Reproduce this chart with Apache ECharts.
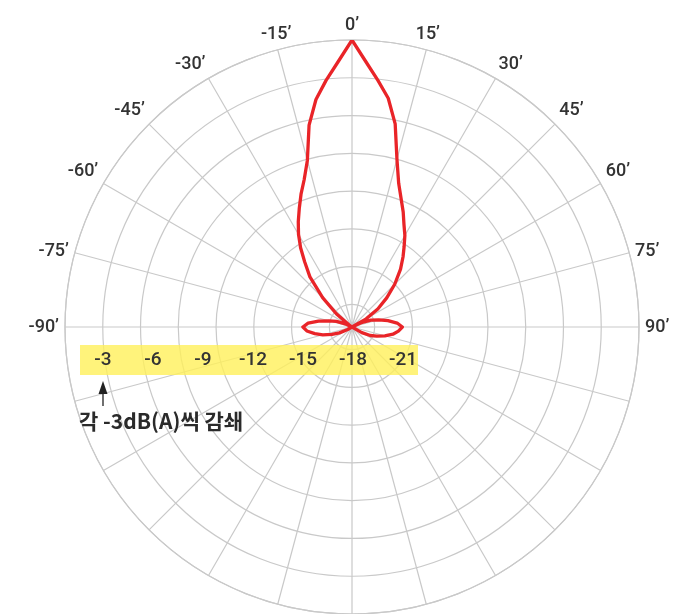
<!DOCTYPE html>
<html>
<head>
<meta charset="utf-8">
<script src="https://cdn.jsdelivr.net/npm/echarts@6/dist/echarts.min.js"></script>
<style>
  html, body { margin: 0; padding: 0; background: #fff; }
  #chart { width: 677px; height: 614px; }
</style>
</head>
<body>
<div id="chart"></div>
<script>
// angle in degrees (0 = front), level in dB
const angles = [
  -125, -120, -115, -110, -105, -100, -95, -90, -85, -80, -75, -70, -65, -60,
  -58, -54, -50, -45, -40, -36, -33, -30, -27, -24, -21, -18, -15, -12, -9, -6, -3,
  0, 3, 6, 9, 12, 15, 18, 21, 24, 27, 30, 33, 36, 40, 45, 50, 55, 60, 62,
  65, 70, 75, 80, 85, 90, 95, 100, 105, 110, 115, 120, 125
];
const levels = [
  -22.8, -22.4, -21.7, -21.1, -20.4, -19.8, -19.2, -18.9, -19.3, -20.1, -20.9, -21.5, -22.2, -22.8,
  -22.8, -22.5, -21.2, -19.5, -17.6, -16.4, -15.3, -14.3, -13.4, -12.5, -11.5, -10.5, -9.1, -6.4, -4.5, -3.1, -1.7,
  0, -1.7, -3.1, -4.4, -6.3, -9.0, -10.8, -11.9, -12.8, -13.7, -14.4, -15.2, -15.9, -16.8, -18.0, -19.2, -20.3, -21.5, -22.8,
  -22.0, -21.2, -20.6, -19.9, -19.2, -18.8, -19.1, -19.5, -20.1, -20.7, -21.2, -21.9, -22.8
];
const ringLabels = ['-3', '-6', '-9', '-12', '-15', '-18', '-21'];
const noteText = '각 -3dB(A)씩 감쇄';

const gridColor = '#c9c9c9';
const textColor = '#333';

const chart = echarts.init(document.getElementById('chart'));

const data = angles.map((a, i) => [levels[i], a]);

// yellow strip labels
const stripLabels = ringLabels.map((t, i) => ({
  type: 'text',
  x: 103 + i * 50,
  y: 360,
  z: 10,
  style: {
    text: t,
    fill: textColor,
    font: '500 19px Roboto, "Noto Sans", sans-serif',
    align: 'center',
    verticalAlign: 'middle'
  }
}));

const option = {
  backgroundColor: '#fff',
  animation: false,
  polar: { center: [352, 327], radius: 287 },
  angleAxis: {
    type: 'value',
    min: -180,
    max: 180,
    interval: 15,
    startAngle: -90,
    clockwise: true,
    axisLine: { show: true, lineStyle: { color: gridColor, width: 1.2 } },
    axisTick: { show: false },
    axisLabel: {
      margin: 6,
      color: textColor,
      fontSize: 18,
      fontWeight: 500,
      fontFamily: 'Roboto, "Noto Sans", sans-serif',
      formatter: function (v) {
        return v >= -90 && v <= 90 ? v + '’' : '';
      }
    },
    splitLine: { show: true, lineStyle: { color: gridColor, width: 1.2 } }
  },
  radiusAxis: {
    type: 'value',
    min: -22.8,
    max: 0,
    splitNumber: 8,
    axisLine: { show: false },
    axisTick: { show: false },
    axisLabel: { show: false },
    splitLine: { show: true, lineStyle: { color: gridColor, width: 1.2 } }
  },
  graphic: [
    {
      type: 'rect',
      shape: { x: 80, y: 345, width: 338, height: 30 },
      z: 5,
      style: { fill: 'rgba(255, 240, 90, 0.8)' }
    },
    ...stripLabels,
    {
      type: 'line',
      shape: { x1: 103, y1: 388, x2: 103, y2: 406 },
      z: 10,
      style: { stroke: '#222', lineWidth: 1.3 }
    },
    {
      type: 'polygon',
      shape: { points: [[103, 381], [98.5, 394], [107.5, 394]] },
      z: 10,
      style: { fill: '#222' }
    },
    {
      type: 'text',
      x: 79,
      y: 421,
      z: 10,
      style: {
        text: noteText,
        fill: '#2a2a2a',
        font: 'bold 21px "Noto Sans CJK KR", sans-serif',
        verticalAlign: 'middle'
      }
    }
  ],
  series: [
    {
      type: 'line',
      coordinateSystem: 'polar',
      data: data,
      showSymbol: false,
      smooth: false,
      z: 8,
      lineStyle: { color: '#e92428', width: 3.3, join: 'round' }
    }
  ]
};

chart.setOption(option);
</script>
</body>
</html>
